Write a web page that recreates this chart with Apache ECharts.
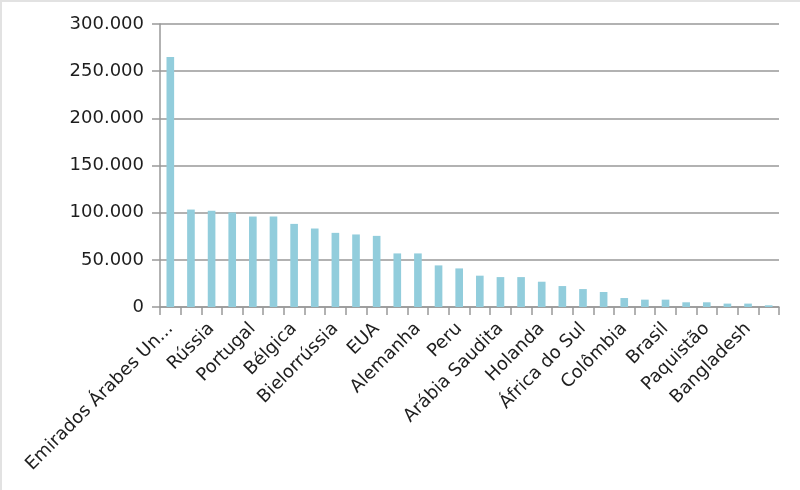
<!DOCTYPE html>
<html>
<head>
<meta charset="utf-8">
<script src="https://cdn.jsdelivr.net/npm/echarts@6/dist/echarts.min.js"></script>
<style>
html,body{margin:0;padding:0;background:#fff;}
#c{width:800px;height:490px;box-sizing:border-box;border-top:2px solid #e2e2e2;border-left:2px solid #e2e2e2;}
</style>
</head>
<body>
<div id="c"></div>
<script>
const categories = ["Emirados Árabes Unidos","Israel","Rússia","Bahrein","Portugal","Lituânia","Bélgica","Itália","Bielorrússia","Espanha","EUA","Reino Unido","Alemanha","Turquia","Peru","Canadá","Arábia Saudita","Chile","Holanda","França","África do Sul","Irã","Colômbia","México","Brasil","Índia","Paquistão","Indonésia","Bangladesh","Nigéria"];
const values = [265000,103300,101900,100100,95900,96000,88100,83200,78600,76900,75400,56800,56800,44100,40900,33200,31700,31700,26800,22200,19000,15900,9500,7800,7800,5000,5000,3600,3600,1800];
const yTicks = [0,50000,100000,150000,200000,250000,300000];

const fmt = v => String(v).replace(/\B(?=(\d{3})+(?!\d))/g, '.');
const chart = echarts.init(document.getElementById('c'), null, {renderer:'canvas'});
const font = 'DejaVu Sans';
chart.setOption({
  animation:false,
  grid:{left:158,right:21,top:22,bottom:183},
  xAxis:{
    type:'category',
    data:categories,
    boundaryGap:true,
    axisLine:{lineStyle:{color:'#999',width:1.5}},
    axisTick:{show:true,length:8,interval:0,alignWithLabel:false,lineStyle:{color:'#999',width:1.5}},
    axisLabel:{interval:1,rotate:45,margin:19,fontFamily:font,fontSize:18,color:'#1e1e1e',
      formatter:v => v.length > 18 ? v.slice(0,18) + '...' : v}
  },
  yAxis:{
    type:'value',
    min:yTicks[0],max:yTicks[yTicks.length-1],interval:yTicks[1]-yTicks[0],
    axisLine:{show:true,lineStyle:{color:'#999',width:1.5}},
    axisTick:{show:true,length:8,lineStyle:{color:'#999',width:1.5}},
    splitLine:{lineStyle:{color:'#999',width:1.5}},
    axisLabel:{margin:16,fontFamily:font,fontSize:18,color:'#1e1e1e',formatter:fmt}
  },
  series:[{type:'bar',data:values,barWidth:'37%',itemStyle:{color:'#92CDDC'}}]
});
</script>
</body>
</html>
